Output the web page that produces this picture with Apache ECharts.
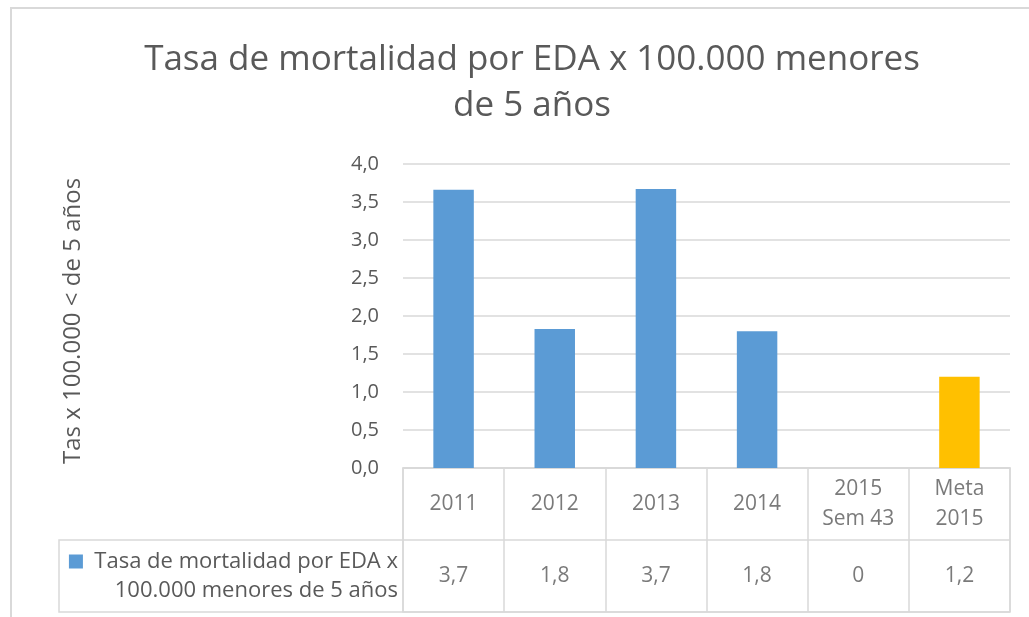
<!DOCTYPE html>
<html>
<head>
<meta charset="utf-8">
<script src="https://cdn.jsdelivr.net/npm/echarts@6/dist/echarts.min.js"></script>
<style>
  html, body { margin: 0; padding: 0; background: #fff; }
  #chart { width: 1029px; height: 617px; }
</style>
</head>
<body>
<div id="chart"></div>
<script>
// ---- data ----
const categories = ['2011', '2012', '2013', '2014', '2015\nSem 43', 'Meta\n2015'];
const seriesValues = [3.66, 1.83, 3.67, 1.80, 0, 1.20];
const tableValues = ['3,7', '1,8', '3,7', '1,8', '0', '1,2'];
const yTicks = [0, 0.5, 1, 1.5, 2, 2.5, 3, 3.5, 4];
const seriesName = 'Tasa de mortalidad por EDA x\n100.000 menores de 5 años';
const titleText = 'Tasa de mortalidad por EDA x 100.000 menores\nde 5 años';
const yAxisTitle = 'Tas x 100.000 < de 5 años';

// ---- styles ----
const FONT = "'Open Sans', 'Noto Sans', sans-serif";
const TXT = '#595959';
const LINE = '#D9D9D9';
const BLUE = '#5B9BD5';
const GOLD = '#FFC000';

const chart = echarts.init(document.getElementById('chart'), null, { renderer: 'canvas' });

const headerPts = categories.map((c, i) => ({ value: [String(i), 'header'], txt: c }));
const dataPts = categories.map((c, i) => ({ value: [String(i), 'data'], txt: tableValues[i] }));

chart.setOption({
  backgroundColor: '#fff',
  animation: false,
  textStyle: { fontFamily: FONT, color: TXT },
  title: {
    text: titleText,
    left: 527,
    top: 32,
    textAlign: 'center',
    textStyle: { fontFamily: FONT, fontSize: 35, fontWeight: 'normal', color: TXT, lineHeight: 46 }
  },
  graphic: [
    { type: 'rect', shape: { x: 11, y: 8, width: 1100, height: 700 }, style: { fill: 'none', stroke: LINE, lineWidth: 2 }, silent: true },
    { type: 'polyline', shape: { points: [[403, 540], [59, 540], [59, 612], [403, 612]] }, style: { fill: 'none', stroke: LINE, lineWidth: 1.5 }, silent: true }
  ],
  grid: [
    { left: 403, right: 19, top: 164, height: 304 },
    { left: 403, right: 19, top: 468, bottom: 5, show: true, borderColor: LINE, borderWidth: 1.5 }
  ],
  xAxis: [
    {
      gridIndex: 0, type: 'category', data: categories,
      axisLine: { show: true, lineStyle: { color: LINE, width: 1.5 } },
      axisTick: { show: false }, axisLabel: { show: false }, splitLine: { show: false }
    },
    {
      gridIndex: 1, type: 'category', data: categories.map((c, i) => String(i)),
      axisLine: { show: false }, axisTick: { show: false }, axisLabel: { show: false },
      splitLine: { show: true, lineStyle: { color: LINE, width: 1.5 } }
    }
  ],
  yAxis: [
    {
      gridIndex: 0, type: 'value', min: 0, max: 4, interval: 0.5,
      name: yAxisTitle, nameLocation: 'middle', nameRotate: 90, nameGap: 318,
      nameTextStyle: { fontFamily: FONT, fontSize: 24, color: TXT, padding: [0, 10, 0, 0] },
      axisLine: { show: false }, axisTick: { show: false },
      axisLabel: {
        margin: 24, fontSize: 20, color: TXT, fontFamily: FONT,
        formatter: v => yTicks.includes(v) ? v.toFixed(1).replace('.', ',') : ''
      },
      splitLine: { show: true, lineStyle: { color: LINE, width: 1.5 } }
    },
    {
      gridIndex: 1, type: 'category', data: ['header', 'data'], inverse: true,
      axisLine: { show: false }, axisTick: { show: false },
      splitLine: { show: true, lineStyle: { color: LINE, width: 1.5 } },
      axisLabel: {
        margin: 5, fontFamily: FONT, fontSize: 22, color: TXT, align: 'right', lineHeight: 29,
        formatter: v => v === 'data' ? '{sq|}  ' + seriesName : '',
        rich: {
          sq: { backgroundColor: BLUE, width: 14, height: 14 }
        }
      }
    }
  ],
  series: [
    {
      type: 'bar', name: seriesName, xAxisIndex: 0, yAxisIndex: 0,
      data: seriesValues, barWidth: '40%',
      itemStyle: { color: p => p.name === 'Meta\n2015' ? GOLD : BLUE }
    },
    {
      type: 'scatter', xAxisIndex: 1, yAxisIndex: 1, symbolSize: 2, silent: true,
      itemStyle: { color: 'rgba(0,0,0,0)' },
      data: headerPts.concat(dataPts),
      label: {
        show: true, position: 'inside', fontFamily: FONT, fontSize: 21, color: TXT, lineHeight: 30,
        formatter: p => p.data.txt
      }
    }
  ]
});
</script>
</body>
</html>
